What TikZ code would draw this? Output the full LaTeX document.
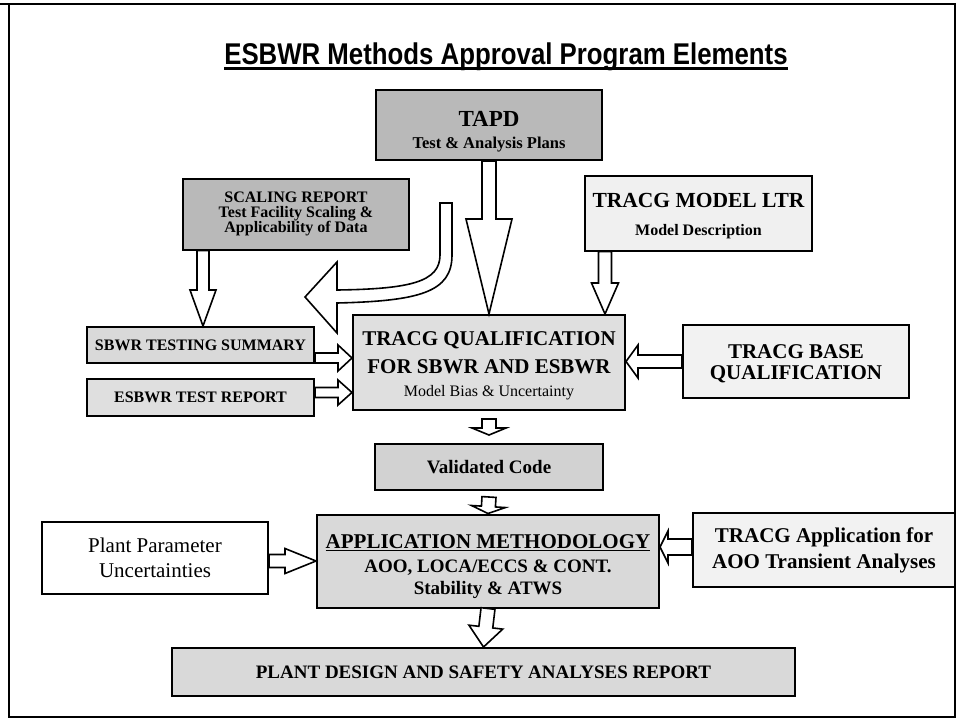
\documentclass[tikz,border=0pt]{standalone}
\usepackage{fontspec}
\setmainfont{Liberation Serif}
\newfontfamily\titlefont[FakeStretch=0.86]{Liberation Sans}
\usetikzlibrary{calc}
\newcommand{\fs}[2]{\fontsize{#1}{#2}\selectfont}
\newsavebox{\ulbox}
\newcommand{\thickul}[3]{\sbox{\ulbox}{#3}\usebox{\ulbox}\llap{\rule[-#2]{\wd\ulbox}{#1}}}
\tikzset{
  box/.style={draw=black, line width=2pt, inner sep=0pt, align=center, text=black},
  barrow/.style={draw=black, line width=1.6pt, fill=white, line join=miter},
}
% block arrow: #1 from, #2 to, #3 shaft half width, #4 head half width, #5 head length
\newcommand{\blockarrow}[5]{%
  \coordinate (ba-h) at ($(#2)!#5!(#1)$);
  \draw[barrow] ($(#1)!#3!90:(#2)$) -- ($(ba-h)!#3!90:(#2)$) -- ($(ba-h)!#4!90:(#2)$)
    -- (#2) -- ($(ba-h)!#4!-90:(#2)$) -- ($(ba-h)!#3!-90:(#2)$) -- ($(#1)!#3!-90:(#2)$) -- cycle;
}
\begin{document}
\begin{tikzpicture}[x=1pt,y=-1pt]
\useasboundingbox (0,0) rectangle (959,718);
\fill[white] (0,0) rectangle (959,718);
\draw[line width=2pt] (9,4) rectangle (955,717);
\draw[line width=2pt] (0,4) -- (9,4);

% title
\node[inner sep=0pt, font=\titlefont\bfseries\fs{30}{32}] (title) at (506,57)
  {\thickul{2.4pt}{5pt}{ESBWR Methods Approval Program Elements}};

% boxes
\node[box, fill=gray!55, minimum width=226, minimum height=70,
      font=\bfseries\fs{23}{23}] (tapd) at (489,125)
  {\rule{0pt}{28pt}TAPD\\[-1pt] \fs{16.5}{23}\bfseries Test \& Analysis Plans};
\node[box, fill=gray!55, minimum width=226, minimum height=71,
      font=\bfseries\fs{16}{15}] (scaling) at (296,214)
  {SCALING REPORT\\ Test Facility Scaling \&\\ Applicability of Data};
\node[box, fill=gray!12, minimum width=227, minimum height=75,
      font=\bfseries\fs{21.5}{28}] (model) at (698.5,213)
  {\rule{0pt}{20pt}TRACG MODEL LTR\\ \fs{16}{28}\bfseries Model Description};
\node[box, fill=gray!25, minimum width=272, minimum height=95,
      font=\bfseries\fs{21}{28}] (qual) at (489,362.5)
  {\rule{0pt}{20pt}TRACG QUALIFICATION\\ FOR SBWR AND ESBWR\\[-5pt] \fs{16}{25}\mdseries Model Bias \& Uncertainty};
\node[box, fill=gray!10, minimum width=226, minimum height=73,
      font=\bfseries\fs{21}{21}] (base) at (796,361.5)
  {\rule{0pt}{18pt}TRACG BASE\\ QUALIFICATION};
\node[box, fill=gray!30, minimum width=227, minimum height=36,
      font=\bfseries\fs{16}{18}] (sbwr) at (200.5,345)
  {SBWR TESTING SUMMARY};
\node[box, fill=gray!25, minimum width=227, minimum height=37,
      font=\bfseries\fs{16}{18}] (esbwr) at (200.5,397.5)
  {ESBWR TEST REPORT};
\node[box, fill=gray!35, minimum width=228, minimum height=46,
      font=\bfseries\fs{19}{20}] (valid) at (489,467)
  {Validated Code};
\node[box, fill=gray!30, minimum width=342, minimum height=93,
      font=\bfseries\fs{21}{24}] (app) at (488,561)
  {\rule{0pt}{26pt}\thickul{1.5pt}{2.5pt}{APPLICATION METHODOLOGY}\\ \fs{19}{24}\bfseries AOO, LOCA/ECCS \& CONT.\\[-2pt] \fs{19}{24}\bfseries Stability \& ATWS};
\node[box, fill=white, minimum width=226, minimum height=72,
      font=\fs{21}{25}] (plantp) at (155,558)
  {Plant Parameter\\ Uncertainties};
\node[box, fill=gray!10, minimum width=262, minimum height=74,
      font=\bfseries\fs{21}{26}] (tapp) at (824,550)
  {TRACG Application for\\ AOO Transient Analyses};
\node[box, fill=gray!30, minimum width=623, minimum height=48,
      font=\bfseries\fs{19}{21}] (pdesign) at (483.5,672)
  {PLANT DESIGN AND SAFETY ANALYSES REPORT};

% connectors
\blockarrow{tapd.south}{qual.north}{7pt}{23pt}{95pt}
\coordinate (m1) at ($(model.south west)+(21,0)$);
\blockarrow{m1}{qual.north -| m1}{6.5pt}{13.5pt}{31pt}
\coordinate (s1) at ($(scaling.south west)+(21,0)$);
\blockarrow{s1}{sbwr.north -| s1}{6pt}{13pt}{36pt}
\coordinate (b1) at ($(sbwr.south east)+(0,-6)$);
\blockarrow{b1}{qual.west |- b1}{5pt}{13pt}{14pt}
\coordinate (e1) at ($(esbwr.east)+(0,-5)$);
\blockarrow{e1}{qual.west |- e1}{5pt}{12.5pt}{14pt}
\blockarrow{base.west}{qual.east |- base.west}{6.5pt}{16.5pt}{12pt}
\coordinate (q1) at ($(qual.south)+(0,8)$);
\coordinate (v1) at ($(valid.north)+(0,-8)$);
\blockarrow{q1}{v1}{7pt}{17pt}{7pt}
\coordinate (v2) at ($(valid.south)+(0,6)$);
\blockarrow{v2}{app.north}{7pt}{17pt}{7pt}
\blockarrow{app.south}{pdesign.north}{7pt}{17pt}{20pt}
\blockarrow{plantp.east |- app.west}{app.west}{6.5pt}{12.5pt}{31pt}
\coordinate (t1) at ($(tapp.west)+(0,-3)$);
\blockarrow{t1}{app.east |- t1}{8pt}{16pt}{8pt}

% curved arrow from TAPD region towards the test reports
\coordinate (c1) at (452,203);
\coordinate (c2) at (440,203);
\draw[barrow] (c1) -- (452,255) .. controls (452,292) and (420,301) .. (337,303)
  -- (337,333) -- (305,297) -- (337,262) -- (337,290)
  .. controls (410,289) and (440,282) .. (440,255) -- (c2) -- cycle;
\end{tikzpicture}
\end{document}
